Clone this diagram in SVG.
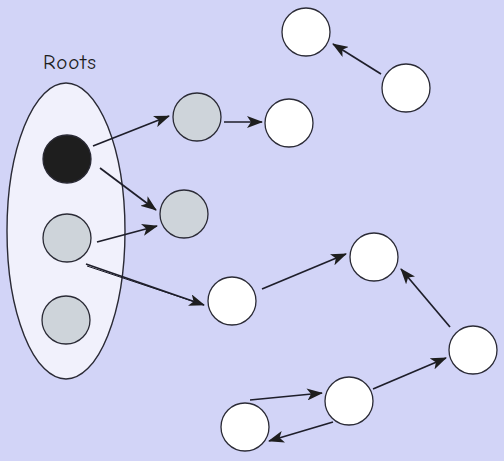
<svg xmlns="http://www.w3.org/2000/svg" width="504" height="461" viewBox="0 0 504 461">
<style>
.bg{fill:#d2d4f7}
.n{stroke:#2a2a35;stroke-width:1.3}
.w{fill:#ffffff}
.g{fill:#ced4da}
.k{fill:#1e1e1e}
.e{stroke:#1e1e2a;stroke-width:1.7;fill:none;marker-end:url(#ah)}
.lbl{font-family:"Comic Neue","Liberation Sans",sans-serif;font-size:21px;fill:#1e1e1e;letter-spacing:1px}
</style>
<defs>
<marker id="ah" viewBox="0 0 16 12" refX="15" refY="6" markerWidth="16" markerHeight="12" markerUnits="userSpaceOnUse" orient="auto">
<path d="M0,0 L16,6 L0,12 L4,6 Z" fill="#1e1e1e"/>
</marker>
</defs>
<rect class="bg" x="0" y="0" width="504" height="461"/>
<g id="roots">
<ellipse cx="66" cy="231" rx="59" ry="148" fill="#f1f1fc" stroke="#2a2a35" stroke-width="1.4"/>
<text class="lbl" x="70" y="69" text-anchor="middle">Roots</text>
</g>
<g id="r1"><circle class="n k" cx="67" cy="159" r="24"/></g>
<g id="r2"><circle class="n g" cx="67" cy="238" r="24"/></g>
<g id="r3"><circle class="n g" cx="66" cy="320" r="24"/></g>
<g id="a"><circle class="n g" cx="197" cy="117" r="24"/></g>
<g id="b"><circle class="n w" cx="289" cy="123" r="24"/></g>
<g id="c"><circle class="n g" cx="184" cy="214" r="24"/></g>
<g id="d"><circle class="n w" cx="232" cy="301" r="24"/></g>
<g id="e"><circle class="n w" cx="374" cy="257" r="24"/></g>
<g id="f"><circle class="n w" cx="473" cy="350" r="24"/></g>
<g id="h"><circle class="n w" cx="349" cy="401" r="24"/></g>
<g id="i"><circle class="n w" cx="245" cy="427" r="24"/></g>
<g id="j"><circle class="n w" cx="306" cy="32" r="24"/></g>
<g id="k"><circle class="n w" cx="406" cy="88" r="24"/></g>
<g id="connectors">
<path class="e" d="M93,146 L169,116"/>
<path class="e" d="M224,122 L262,122"/>
<path class="e" d="M100,168 L156,210"/>
<path class="e" d="M97,242 L157,226"/>
<path class="e" d="M86,264 L204,305"/>
<path class="e" d="M87,266 L204,305" style="stroke-width:1;marker-end:none"/>
<path class="e" d="M262,289 L346,254"/>
<path class="e" d="M450,327 L401,269"/>
<path class="e" d="M373,389 L446,358"/>
<path class="e" d="M250,400 L322,393"/>
<path class="e" d="M333,422 L269,441"/>
<path class="e" d="M381,74 L333,44"/>
</g>
</svg>
